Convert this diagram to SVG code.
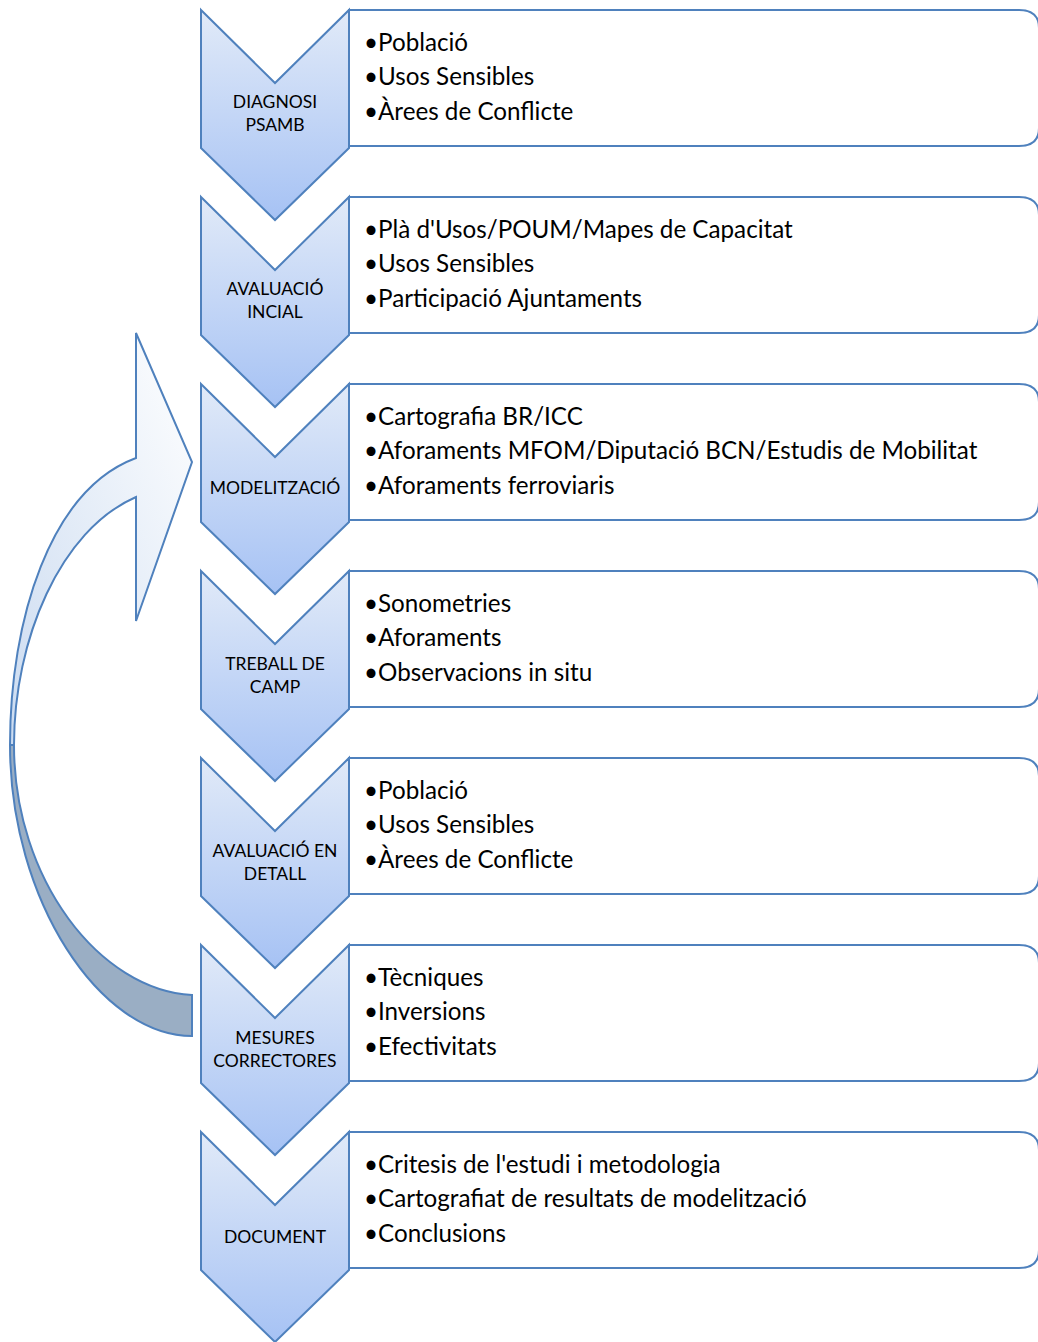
<svg xmlns="http://www.w3.org/2000/svg" width="1038" height="1342" viewBox="0 0 1038 1342">
<style>
.box{fill:#fff;stroke:#4f81bd;stroke-width:2}
.chev{fill:url(#cg);stroke:#4f81bd;stroke-width:2;stroke-linejoin:miter}
.lbl{font-family:Lato,"Liberation Sans",sans-serif;font-size:17.5px;fill:#000;text-anchor:middle}
.bul{font-family:Lato,"Liberation Sans",sans-serif;font-size:24.2px;fill:#000}
</style>
<defs>
<linearGradient id="cg" x1="0" y1="0" x2="0" y2="1">
<stop offset="0" stop-color="#e1eaf8"/>
<stop offset="1" stop-color="#a6c2f4"/>
</linearGradient>
<linearGradient id="ag" x1="0" y1="1" x2="1" y2="0">
<stop offset="0" stop-color="#ccdcf1"/>
<stop offset="1" stop-color="#ffffff"/>
</linearGradient>
<path id="chv" d="M0,0 L74,73 L148,0 L148,138 L74,210 L0,138 Z"/>
<path id="bx" d="M0,0 H670 Q690,0 690,18 V118 Q690,136 670,136 H0 Z"/>
</defs>

<g id="connectors">
<path d="M10,745 C10,900 100,1036 192,1036 L192,995 C100,990 14,880 14,745 Z" fill="#9aaec4" stroke="#4f81bd" stroke-width="2"/>
<path d="M10,745 C10,620 50,490 136,458 L136,333 L192,462 L136,621 L136,497 C60,530 14,640 14,745 Z" fill="url(#ag)" stroke="#4f81bd" stroke-width="2" stroke-linejoin="miter"/>
</g>

<g id="node1">
<use href="#bx" x="349" y="10" class="box"/>
<use href="#chv" x="201" y="10" class="chev"/>
<text class="lbl" x="275" y="108">DIAGNOSI</text>
<text class="lbl" x="275" y="131">PSAMB</text>
<text class="bul" x="364" y="51">•Població</text>
<text class="bul" x="364" y="85">•Usos Sensibles</text>
<text class="bul" x="364" y="120">•Àrees de Conflicte</text>
</g>

<g id="node2">
<use href="#bx" x="349" y="197" class="box"/>
<use href="#chv" x="201" y="197" class="chev"/>
<text class="lbl" x="275" y="295">AVALUACIÓ</text>
<text class="lbl" x="275" y="318">INCIAL</text>
<text class="bul" x="364" y="238">•Plà d'Usos/POUM/Mapes de Capacitat</text>
<text class="bul" x="364" y="272">•Usos Sensibles</text>
<text class="bul" x="364" y="307">•Participació Ajuntaments</text>
</g>

<g id="node3">
<use href="#bx" x="349" y="384" class="box"/>
<use href="#chv" x="201" y="384" class="chev"/>
<text class="lbl" x="275" y="494">MODELITZACIÓ</text>
<text class="bul" x="364" y="425">•Cartografia BR/ICC</text>
<text class="bul" x="364" y="459">•Aforaments MFOM/Diputació BCN/Estudis de Mobilitat</text>
<text class="bul" x="364" y="494">•Aforaments ferroviaris</text>
</g>

<g id="node4">
<use href="#bx" x="349" y="571" class="box"/>
<use href="#chv" x="201" y="571" class="chev"/>
<text class="lbl" x="275" y="670">TREBALL DE</text>
<text class="lbl" x="275" y="693">CAMP</text>
<text class="bul" x="364" y="612">•Sonometries</text>
<text class="bul" x="364" y="646">•Aforaments</text>
<text class="bul" x="364" y="681">•Observacions in situ</text>
</g>

<g id="node5">
<use href="#bx" x="349" y="758" class="box"/>
<use href="#chv" x="201" y="758" class="chev"/>
<text class="lbl" x="275" y="857">AVALUACIÓ EN</text>
<text class="lbl" x="275" y="880">DETALL</text>
<text class="bul" x="364" y="799">•Població</text>
<text class="bul" x="364" y="833">•Usos Sensibles</text>
<text class="bul" x="364" y="868">•Àrees de Conflicte</text>
</g>

<g id="node6">
<use href="#bx" x="349" y="945" class="box"/>
<use href="#chv" x="201" y="945" class="chev"/>
<text class="lbl" x="275" y="1044">MESURES</text>
<text class="lbl" x="275" y="1067">CORRECTORES</text>
<text class="bul" x="364" y="986">•Tècniques</text>
<text class="bul" x="364" y="1020">•Inversions</text>
<text class="bul" x="364" y="1055">•Efectivitats</text>
</g>

<g id="node7">
<use href="#bx" x="349" y="1132" class="box"/>
<use href="#chv" x="201" y="1132" class="chev"/>
<text class="lbl" x="275" y="1243">DOCUMENT</text>
<text class="bul" x="364" y="1173">•Critesis de l'estudi i metodologia</text>
<text class="bul" x="364" y="1207">•Cartografiat de resultats de modelització</text>
<text class="bul" x="364" y="1242">•Conclusions</text>
</g>
</svg>
